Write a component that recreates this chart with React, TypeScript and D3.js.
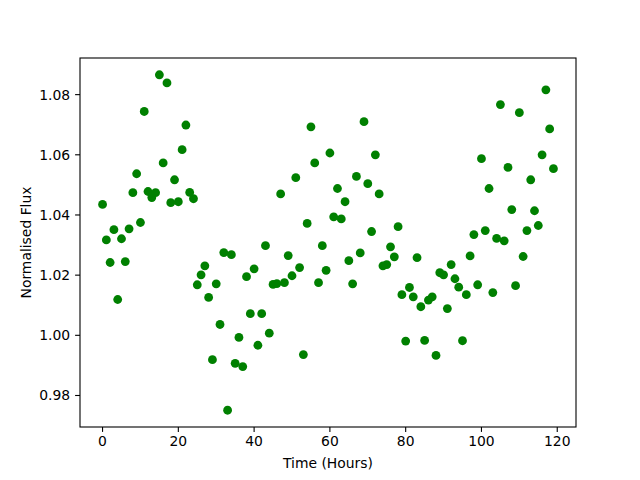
import React from 'react';
import * as d3 from 'd3';

// normalised flux, one reading per hour
const flux = [
  1.0435, 1.0317, 1.0242, 1.0351, 1.0119, 1.0321, 1.0245, 1.0354, 1.0474, 1.0537,
  1.0375, 1.0744, 1.0478, 1.0458, 1.0474, 1.0866, 1.0573, 1.0839, 1.0441, 1.0517,
  1.0444, 1.0617, 1.0699, 1.0475, 1.0454, 1.0168, 1.0201, 1.0231, 1.0126, 0.9919,
  1.0171, 1.0036, 1.0275, 0.9751, 1.0268, 0.9907, 0.9993, 0.9896, 1.0195, 1.0072,
  1.0221, 0.9967, 1.0072, 1.0298, 1.0007, 1.0169, 1.0172, 1.047, 1.0175, 1.0265,
  1.0198, 1.0524, 1.0225, 0.9936, 1.0372, 1.0693, 1.0573, 1.0175, 1.0298, 1.0216,
  1.0606, 1.0394, 1.0488, 1.0387, 1.0444, 1.0248, 1.0171, 1.0528, 1.0274, 1.071,
  1.0504, 1.0345, 1.06, 1.047, 1.0231, 1.0235, 1.0294, 1.0261, 1.0361, 1.0135,
  0.9981, 1.0159, 1.0128, 1.0258, 1.0095, 0.9983, 1.0117, 1.0128, 0.9933, 1.0208,
  1.0201, 1.0089, 1.0235, 1.0188, 1.016, 0.9982, 1.0135, 1.0264, 1.0335, 1.0168,
  1.0587, 1.0348, 1.0488, 1.0142, 1.0322, 1.0767, 1.0314, 1.0558, 1.0418, 1.0165,
  1.074, 1.0262, 1.0348, 1.0517, 1.0414, 1.0365, 1.06, 1.0816, 1.0686, 1.0554
];
const hours = flux.map((_, i) => i);

const xTicks = [0, 20, 40, 60, 80, 100, 120];
const yTicks = [0.98, 1.0, 1.02, 1.04, 1.06, 1.08];

const W = 640;
const H = 480;
const left = 80, right = 576, top = 58, bottom = 427;
const font = 'DejaVu Sans, sans-serif';

export default function App() {
  // matplotlib-style 5% padding around the data
  const xPad = (d3.max(hours)! - d3.min(hours)!) * 0.05;
  const yPad = (d3.max(flux)! - d3.min(flux)!) * 0.05;
  const x = d3.scaleLinear()
    .domain([d3.min(hours)! - xPad, d3.max(hours)! + xPad])
    .range([left, right]);
  const y = d3.scaleLinear()
    .domain([d3.min(flux)! - yPad, d3.max(flux)! + yPad])
    .range([bottom, top]);

  const tick = 4.9;
  const fmt = d3.format('.2f');

  return (
    <svg width={W} height={H} style={{ position: 'absolute', left: 0, top: 0, background: '#fff' }}>
      <rect x={0} y={0} width={W} height={H} fill="#fff" />
      {flux.map((v, i) => (
        <circle key={i} cx={x(hours[i])} cy={y(v)} r={4.4} fill="#008000" />
      ))}
      <rect x={left} y={top} width={right - left} height={bottom - top}
        fill="none" stroke="#000" strokeWidth={1.1} />
      {xTicks.map(t => (
        <g key={t}>
          <line x1={x(t)} x2={x(t)} y1={bottom} y2={bottom + tick} stroke="#000" strokeWidth={1.1} />
          <text x={x(t)} y={bottom + tick + 14.5} textAnchor="middle" fontFamily={font} fontSize={13.9}>{t}</text>
        </g>
      ))}
      {yTicks.map(t => (
        <g key={t}>
          <line x1={left - tick} x2={left} y1={y(t)} y2={y(t)} stroke="#000" strokeWidth={1.1} />
          <text x={left - tick - 4.9} y={y(t) + 5} textAnchor="end" fontFamily={font} fontSize={13.9}>{fmt(t)}</text>
        </g>
      ))}
      <text x={(left + right) / 2} y={468} textAnchor="middle" fontFamily={font} fontSize={13.9}>Time (Hours)</text>
      <text transform={`translate(31,${(top + bottom) / 2}) rotate(-90)`} textAnchor="middle"
        fontFamily={font} fontSize={13.9}>Normalised Flux</text>
    </svg>
  );
}
